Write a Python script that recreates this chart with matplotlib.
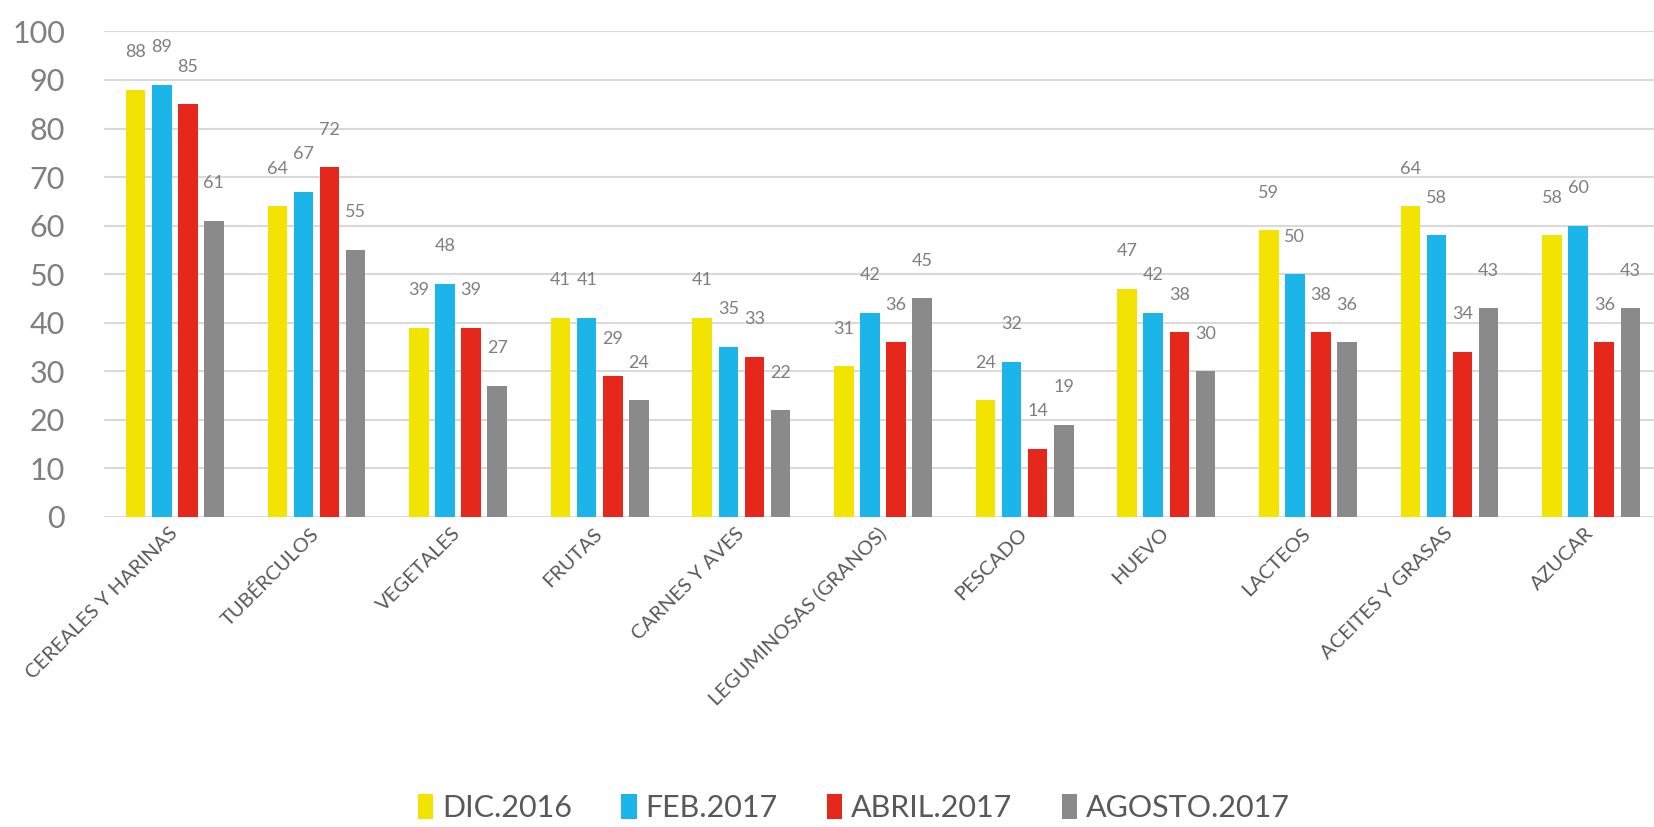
import matplotlib
matplotlib.use("Agg")
import matplotlib.pyplot as plt
import numpy as np

categories = ["CEREALES Y HARINAS", "TUBÉRCULOS", "VEGETALES", "FRUTAS", "CARNES Y AVES",
              "LEGUMINOSAS (GRANOS)", "PESCADO", "HUEVO", "LACTEOS", "ACEITES Y GRASAS", "AZUCAR"]
series_names = ["DIC.2016", "FEB.2017", "ABRIL.2017", "AGOSTO.2017"]
dic_2016 = [88, 64, 39, 41, 41, 31, 24, 47, 59, 64, 58]
feb_2017 = [89, 67, 48, 41, 35, 42, 32, 42, 50, 58, 60]
abril_2017 = [85, 72, 39, 29, 33, 36, 14, 38, 38, 34, 36]
agosto_2017 = [61, 55, 27, 24, 22, 45, 19, 30, 36, 43, 43]
y_ticks = [0, 10, 20, 30, 40, 50, 60, 70, 80, 90, 100]

series = [dic_2016, feb_2017, abril_2017, agosto_2017]
colors = ["#F2E400", "#1CB5EA", "#E5281B", "#8A8A8A"]

plt.rcParams['font.family'] = ['Lato', 'DejaVu Sans']

fig = plt.figure(figsize=(16.54, 8.27), dpi=100)
ax = fig.add_axes([104/1654, 0.375, 1558/1654, 0.587])

x = np.arange(len(categories))
pitch = 0.184
width = 0.138
handles = []
for i, (vals, col, name) in enumerate(zip(series, colors, series_names)):
    pos = x + (i - 1.5) * pitch
    b = ax.bar(pos, vals, width=width, color=col, label=name, zorder=3)
    handles.append(b)
    for px, v in zip(pos, vals):
        ax.annotate(str(v), (px, v), xytext=(0, 27), textcoords='offset points',
                    ha='center', va='center', fontsize=13, color='#7F7F7F')

ax.set_xlim(-0.5, len(categories) - 0.5)
ax.set_ylim(0, 100)
ax.set_yticks(y_ticks)
ax.set_yticklabels([str(t) for t in y_ticks], fontsize=22, color='#808080')
ax.tick_params(axis='y', length=0, pad=28)
ax.yaxis.grid(True, color='#D9D9D9', linewidth=1.5, zorder=0)
ax.set_axisbelow(True)
for s in ax.spines.values():
    s.set_visible(False)

ax.set_xticks(x)
ax.set_xticklabels(categories, rotation=45, ha='right', va='center',
                   rotation_mode='anchor', fontsize=14.5, color='#595959')
ax.tick_params(axis='x', length=0, pad=10)

fig.legend(handles=handles, labels=series_names, loc='center',
           bbox_to_anchor=(854/1654, 1 - 808/827), ncol=4, frameon=False,
           fontsize=22, handlelength=0.5, handleheight=0.9, handletextpad=0.3,
           columnspacing=1.6, labelcolor='#595959')

fig.savefig("out.png", dpi=100)
